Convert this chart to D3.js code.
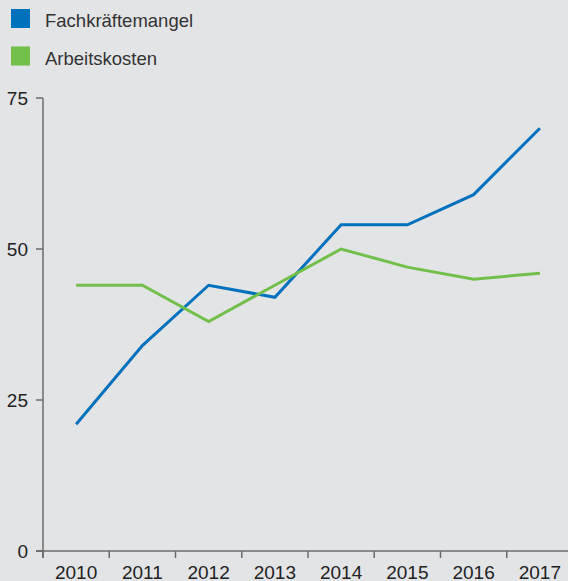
<!DOCTYPE html>
<html>
<head>
<meta charset="utf-8">
<script src="https://cdn.jsdelivr.net/npm/d3@7"></script>
<style>
    body { margin: 0; background: #e3e4e6; }
    svg { display: block; }
    .axis path, .axis line { stroke: #6b6b6b; stroke-width: 1.5; }
    .tick-label { font-family: "Liberation Sans Narrow", "Liberation Sans", Arial, sans-serif; font-size: 19px; fill: #222; }
    .legend text { font-family: "Liberation Sans", Arial, sans-serif; font-size: 18.5px; fill: #333; }
</style>
</head>
<body>
<svg id="chart" width="568" height="581"></svg>
<script>
// data
var years = ["2010", "2011", "2012", "2013", "2014", "2015", "2016", "2017"];
var fachkraeftemangel = [21, 34, 44, 42, 54, 54, 59, 70];
var arbeitskosten = [44, 44, 38, 44, 50, 47, 45, 46];
var yTicks = [0, 25, 50, 75];

var seriesNames = ["Fachkräftemangel", "Arbeitskosten"];
var seriesColors = ["#0071bc", "#72c04a"];

var svg = d3.select("#chart"),
    margin = { top: 98, right: -5, bottom: 30, left: 43 },
    width = +svg.attr("width") - margin.left - margin.right,
    height = +svg.attr("height") - margin.top - margin.bottom;

var x = d3.scaleBand().domain(years).range([0, width]).padding(0);
var y = d3.scaleLinear().domain([0, 75]).range([height, 0]);

var g = svg.append("g")
    .attr("transform", "translate(" + margin.left + "," + margin.top + ")");

// x axis: line + ticks on the band edges, labels in the middle
var xAxis = g.append("g").attr("class", "axis")
    .attr("transform", "translate(0," + height + ")");

xAxis.append("line")
    .attr("x1", -7).attr("x2", width)
    .attr("y1", 0).attr("y2", 0);

xAxis.selectAll(".xtick")
    .data(years)
    .enter().append("line")
    .attr("class", "xtick")
    .attr("x1", function (d) { return x(d); })
    .attr("x2", function (d) { return x(d); })
    .attr("y1", 0).attr("y2", 7);

xAxis.selectAll(".tick-label")
    .data(years)
    .enter().append("text")
    .attr("class", "tick-label")
    .attr("x", function (d) { return x(d) + x.bandwidth() / 2; })
    .attr("y", 28)
    .attr("text-anchor", "middle")
    .text(function (d) { return d; });

// y axis
var yAxis = g.append("g").attr("class", "axis");

yAxis.append("line")
    .attr("x1", 0).attr("x2", 0)
    .attr("y1", y(75)).attr("y2", height + 7);

yAxis.selectAll(".ytick")
    .data(yTicks)
    .enter().append("line")
    .attr("class", "ytick")
    .attr("x1", -7).attr("x2", 0)
    .attr("y1", function (d) { return y(d); })
    .attr("y2", function (d) { return y(d); });

yAxis.selectAll(".tick-label")
    .data(yTicks)
    .enter().append("text")
    .attr("class", "tick-label")
    .attr("x", -15)
    .attr("y", function (d) { return y(d); })
    .attr("dy", "0.35em")
    .attr("text-anchor", "end")
    .text(function (d) { return d; });

// lines
var line = d3.line()
    .x(function (d, i) { return x(years[i]) + x.bandwidth() / 2; })
    .y(function (d) { return y(d); });

[fachkraeftemangel, arbeitskosten].forEach(function (values, i) {
    g.append("path")
        .datum(values)
        .attr("fill", "none")
        .attr("stroke", seriesColors[i])
        .attr("stroke-width", 3)
        .attr("stroke-linejoin", "miter")
        .attr("d", line);
});

// legend
var legend = svg.append("g").attr("class", "legend");

var item = legend.selectAll("g")
    .data(seriesNames)
    .enter().append("g")
    .attr("transform", function (d, i) { return "translate(11," + (9 + i * 37.5) + ")"; });

item.append("rect")
    .attr("width", 19).attr("height", 19)
    .attr("fill", function (d, i) { return seriesColors[i]; });

item.append("text")
    .attr("x", 34)
    .attr("y", 18)
    .text(function (d) { return d; });
</script>
</body>
</html>
